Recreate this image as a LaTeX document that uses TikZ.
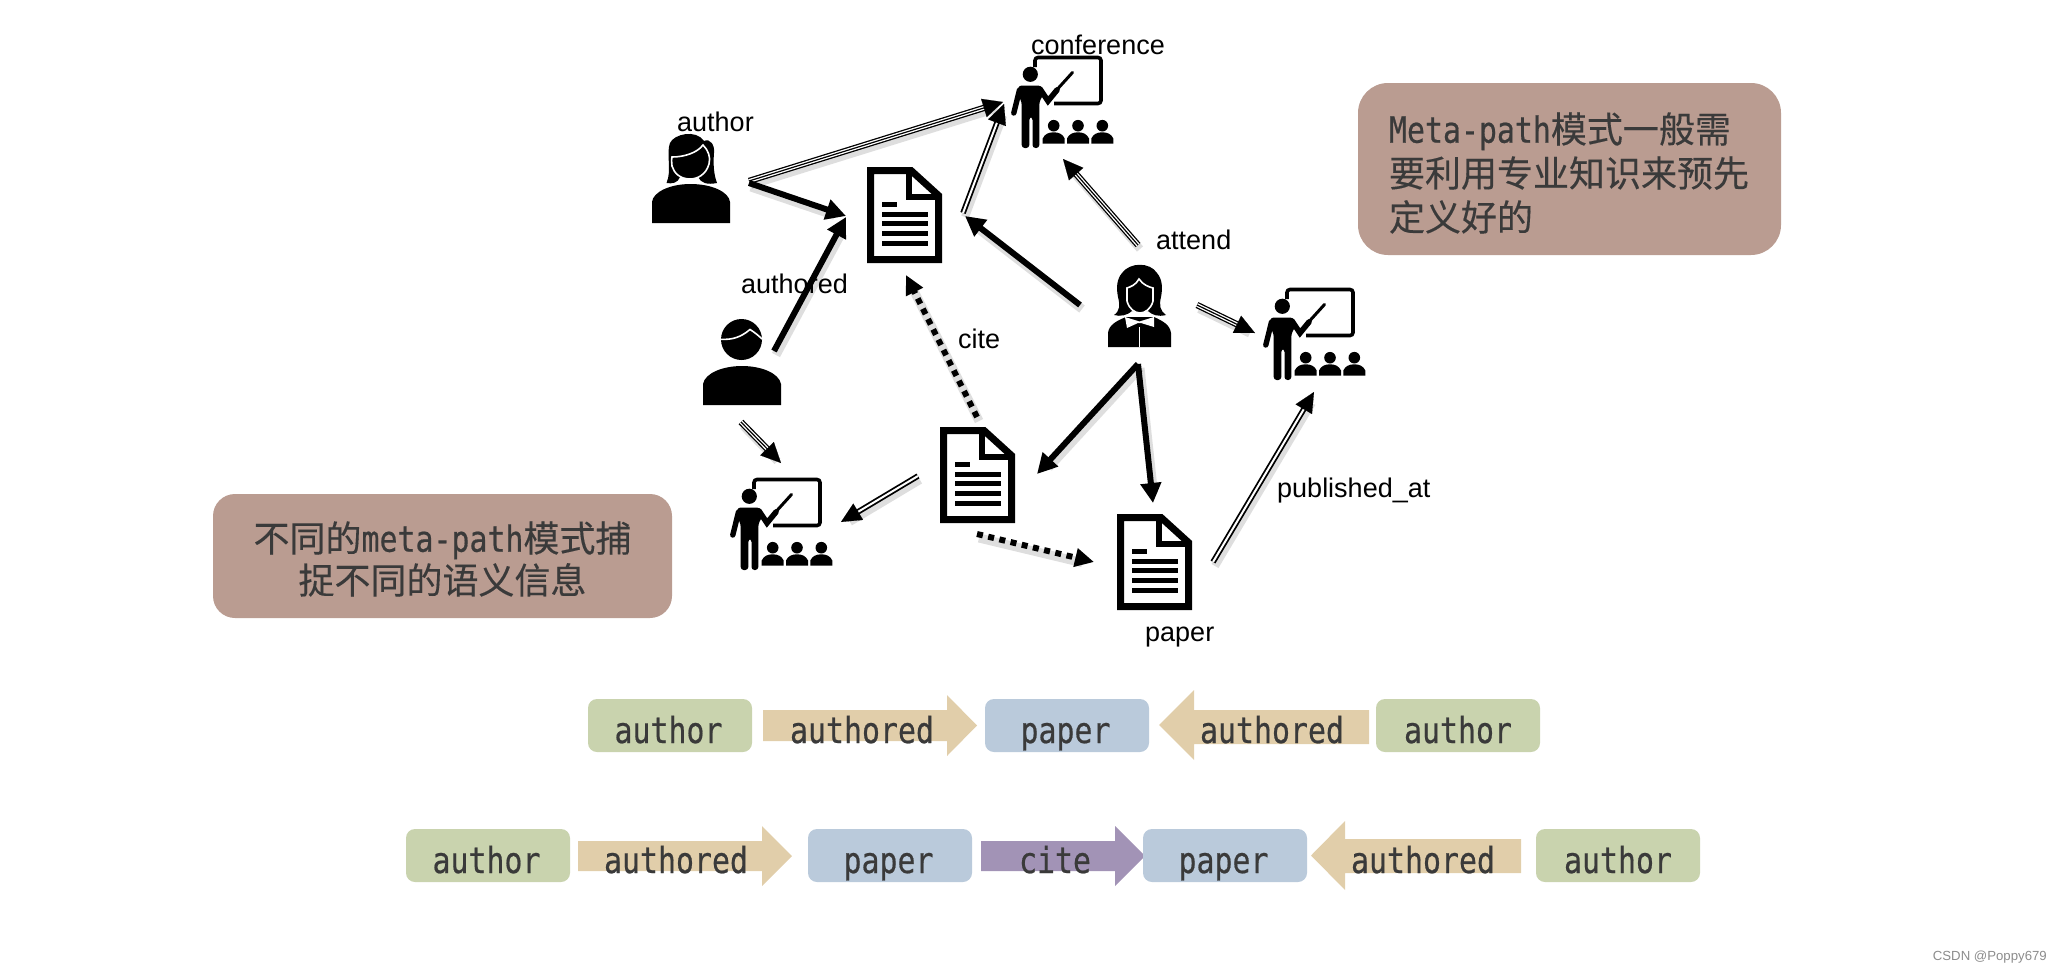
\documentclass[tikz,border=0pt]{standalone}
\usepackage{fontspec}
\setmainfont{Liberation Sans}
\newfontfamily\cjkfont[FakeBold=0.3]{Noto Sans CJK SC}
\newfontfamily\latinfont[FakeStretch=0.83,FakeBold=0.5]{DejaVu Sans Mono}
\usetikzlibrary{arrows.meta,calc}
\definecolor{brownbox}{HTML}{BA9C91}
\definecolor{greenbox}{HTML}{C9D3AE}
\definecolor{bluebox}{HTML}{BACADB}
\definecolor{tanbox}{HTML}{E1CEAA}
\definecolor{purplebox}{HTML}{A293B6}
\definecolor{inktext}{HTML}{3A3A3A}
\newcommand{\pxfont}[2]{\fontsize{#1}{#2}\selectfont}
\tikzset{
  x=1pt,y=-1pt,
  lbl/.style={anchor=base west,inner sep=0pt,font=\pxfont{27}{30}},
  notetext/.style={inner sep=0pt,text=inktext,font=\cjkfont\pxfont{36}{44}},
  pill/.style={rounded corners=9pt,fill=#1,minimum height=53pt,inner sep=0pt,text=inktext,
    text height=36pt,text depth=1pt,font=\latinfont\pxfont{36}{40}},
  flowtext/.style={inner sep=0pt,text=inktext,text height=36pt,text depth=1pt,font=\latinfont\pxfont{36}{40}},
  shadowline/.style={draw=black,opacity=.13,line cap=butt,transform canvas={shift={(2pt,-4pt)}}},
  thickline/.style={line width=6pt,-{Triangle[length=20pt,width=20pt]}},
  dotline/.style={line width=6pt,dash pattern=on 6pt off 5.5pt,-{Triangle[length=19pt,width=18pt]}},
  tiponly/.style={line width=.1pt,-{Triangle[length=20pt,width=19pt]}},
  paper/.pic={
    \draw[line width=7pt,miter limit=10] (3.5,3.5)--(44,3.5)--(71.5,28.5)--(71.5,92.5)--(3.5,92.5)--cycle;
    \draw[line width=6.5pt] (42,3.5)--(42,30)--(71.5,30);
    \draw[line width=5pt] (15,37)--(30,37) (15,47)--(61,47) (15,56.7)--(61,56.7) (15,66.5)--(61,66.5) (15,76.2)--(61,76.2);
  },
  teacher/.pic={
    \draw[line width=3.6pt,rounded corners=3pt] (24,12)--(24,2.5)--(90,2.5)--(90,48.5)--(43,48.5);
    \fill (19.3,19.3) circle (7.6);
    \fill[rounded corners=3pt] (7.5,30.5)--(30,30.5)--(33,38)--(28.3,47)--(28.3,93)--(21.5,93)--(21.5,62)--(18.3,62)--(18.3,93)--(10.7,93)--(10.7,47)--(7,40)--cycle;
    \draw[line width=5.4pt,line cap=round] (8.5,35)--(2.8,58);
    \draw[line width=5.6pt,line cap=round] (29,34)--(37,46)--(46,35);
    \draw[line width=3pt,line cap=round] (42,39)--(61.5,17.5);
    \foreach \cx in {42.7,67,91.3}{
      \fill (\cx,70.7) circle (5.8);
      \fill (\cx-11,88.5)--(\cx-11,83.5) .. controls (\cx-9,79) and (\cx-5,77.3) .. (\cx,77.3) .. controls (\cx+5,77.3) and (\cx+9,79) .. (\cx+11,83.5)--(\cx+11,88.5)--cycle;
    }
  },
  womanicon/.pic={
    \fill (14.5,50) .. controls (20,38) and (14,20) .. (18,10) .. controls (22,1) and (44,-4) .. (52,8) .. controls (58,5) and (63,12) .. (62,20) .. controls (61,32) and (62,42) .. (65,50) .. controls (55,52) and (49,50) .. (46,44)--(28,44) .. controls (26,50) and (20,51) .. cycle;
    \draw[white,line width=1.6pt,fill=black] (20,24) .. controls (32,24) and (45,20) .. (51,12) .. controls (56,17) and (59,24) .. (57,31) .. controls (54,42) and (45,46) .. (38,46) .. controls (28,46) and (22,40) .. (20,33) .. controls (19.5,30) and (19.5,26) .. cycle;
    \fill (0,90)--(0,69) .. controls (1,59) and (18,51) .. (38.5,51) .. controls (60,51) and (77,59) .. (78,69)--(78,90)--cycle;
  },
  manicon/.pic={
    \fill (38.5,20.5) circle (20.5);
    \draw[white,line width=1.6pt] (17,20.3) .. controls (30,21) and (38,18) .. (47,10.5) .. controls (51,13) and (55,16) .. (59,20);
    \fill (0,86)--(0,65) .. controls (2,54) and (20,47) .. (39,47) .. controls (58,47) and (76,54) .. (78,65)--(78,86)--cycle;
  },
  ladyicon/.pic={
    \fill (6,50) .. controls (12,46) and (12,40) .. (10,32) .. controls (8,22) and (9,14) .. (14,8) .. controls (22,-3) and (42,-3) .. (49,8) .. controls (54,14) and (55,22) .. (53,32) .. controls (51,40) and (52,46) .. (58,50) .. controls (50,52) and (44,50) .. (40,46)--(24,46) .. controls (20,50) and (12,52) .. cycle;
    \draw[white,line width=1.6pt,fill=black] (31,14) .. controls (28,20) and (22,22) .. (19,23)--(19,36) .. controls (21,44) and (27,48) .. (32,48) .. controls (37,48) and (43,44) .. (45,36)--(45,23) .. controls (41,22) and (35,20) .. cycle;
    \fill (0,82)--(0,68) .. controls (1,60) and (8,56) .. (18,52)--(46,52) .. controls (55,56) and (62,60) .. (63,68)--(63,82)--cycle;
    \fill[white] (17,52)--(31.5,56.5)--(46,52)--(46,62)--(33,58)--(30,58)--(19,63)--cycle;
    \draw[white,line width=1pt] (31.7,62)--(31.7,82);
  },
}
\newcommand{\solidarrow}[3][thickline]{%
  \draw[shadowline,line width=9pt,shorten >=14pt] (#2)--(#3);
  \draw[#1] (#2)--(#3);}
\newcommand{\doublearrow}[2]{%
  \draw[shadowline,line width=8pt,shorten >=8pt] (#1)--(#2);
  \draw[line width=5.6pt,shorten >=15pt] (#1)--(#2);
  \draw[white,line width=2pt,shorten >=15pt] (#1)--(#2);
  \draw[tiponly] ($(#2)!20pt!(#1)$)--(#2);}
\newcommand{\triplearrow}[2]{%
  \draw[shadowline,line width=8pt,shorten >=8pt] (#1)--(#2);
  \draw[line width=6.4pt,shorten >=15pt] (#1)--(#2);
  \draw[white,line width=3.8pt,shorten >=15pt] (#1)--(#2);
  \draw[line width=1.2pt,shorten >=15pt] (#1)--(#2);
  \draw[tiponly] ($(#2)!20pt!(#1)$)--(#2);}
\begin{document}
\begin{tikzpicture}
\useasboundingbox (0,0) rectangle (2062,972);

% note boxes
\fill[brownbox,rounded corners=30pt] (1358,83) rectangle (1781,255);
\node[notetext,text width=361pt,align=left] (noteright) at (1569.5,173)
  {{\latinfont Meta-path}模式一般需\\要利用专业知识来预先\\定义好的};
\fill[brownbox,rounded corners=22pt] (213,494) rectangle (672,618);
\node[notetext,align=center,font=\cjkfont\pxfont{36}{42}] (noteleft) at (442.5,559)
  {不同的{\latinfont meta-path}模式捕\\捉不同的语义信息};

% icons
\pic (womanA) at (652,133) {womanicon};
\pic (manA) at (703,319) {manicon};
\pic (ladyA) at (1108,265) {ladyicon};
\pic (paperA) at (867,167) {paper};
\pic (paperB) at (940,427) {paper};
\pic (paperC) at (1117,514) {paper};
\pic (confA) at (1011,55) {teacher};
\pic (confB) at (1263,287) {teacher};
\pic (confC) at (730,477) {teacher};

% connector ends
\coordinate (womanOut) at (749,181);
\coordinate (womanOutB) at (749,183);
\coordinate (confAin) at (1003,102);
\coordinate (confAinB) at (1004,104);
\coordinate (paperAinL) at (846,216);
\coordinate (paperAinLB) at (846,217);
\coordinate (manOut) at (774,351);
\coordinate (paperAout) at (963,213);
\coordinate (ladyWest) at (1080,305);
\coordinate (paperAinR) at (965,216);
\coordinate (ladyNorth) at (1138,245);
\coordinate (confAinS) at (1063,159);
\coordinate (ladyEast) at (1197,305);
\coordinate (confBinW) at (1255,333);
\coordinate (ladySouth) at (1138,364);
\coordinate (paperBinR) at (1037,474);
\coordinate (paperCin) at (1153,503);
\coordinate (paperCout) at (1213,562);
\coordinate (confBinS) at (1314,392);
\coordinate (paperBnorth) at (977,417);
\coordinate (paperAinS) at (906,275);
\coordinate (paperBsouth) at (977,534);
\coordinate (paperCinW) at (1094,562);
\coordinate (paperBwest) at (918,476);
\coordinate (confCinE) at (841,522);
\coordinate (manSouth) at (741,422);
\coordinate (confCinN) at (781,463);

% connectors
\triplearrow{womanOut}{confAin}
\doublearrow{paperAout}{confAinB}
\solidarrow{womanOutB}{paperAinL}
\solidarrow{manOut}{paperAinLB}
\solidarrow{ladyWest}{paperAinR}
\triplearrow{ladyNorth}{confAinS}
\triplearrow{ladyEast}{confBinW}
\solidarrow{ladySouth}{paperBinR}
\solidarrow{ladySouth}{paperCin}
\doublearrow{paperCout}{confBinS}
\solidarrow[dotline]{paperBnorth}{paperAinS}
\solidarrow[dotline]{paperBsouth}{paperCinW}
\doublearrow{paperBwest}{confCinE}
\triplearrow{manSouth}{confCinN}

% labels
\node[lbl] (lblauthor) at (677,131) {author};
\node[lbl] (lblconf) at (1031,54) {conference};
\node[lbl] (lblauthored) at (741,293) {authored};
\node[lbl] (lblcite) at (958,348) {cite};
\node[lbl] (lblattend) at (1156,249) {attend};
\node[lbl] (lblpub) at (1277,497) {published\_at};
\node[lbl] (lblpaper) at (1145,641) {paper};

% path schema, first row
\fill[tanbox] (763,710)--(947,710)--(947,695)--(977,725.5)--(947,756)--(947,741)--(763,741)--cycle;
\fill[tanbox] (1369,710)--(1194,710)--(1194,690)--(1159,725)--(1194,760)--(1194,744)--(1369,744)--cycle;
\node[pill=greenbox,minimum width=164pt] (r1a) at (670,725.5) {\hspace{-3pt}author};
\node[flowtext] (r1t) at (862,725.5) {authored};
\node[pill=bluebox,minimum width=164pt] (r1p) at (1067,725.5) {\hspace{-3pt}paper};
\node[flowtext] (r1u) at (1272,725.5) {authored};
\node[pill=greenbox,minimum width=164pt] (r1b) at (1458,725.5) {author};

% path schema, second row
\fill[tanbox] (578,841)--(762,841)--(762,826)--(792,856)--(762,886)--(762,871)--(578,871)--cycle;
\fill[purplebox] (981,841)--(1115,841)--(1115,826)--(1145,856)--(1115,886)--(1115,871)--(981,871)--cycle;
\fill[tanbox] (1521,839)--(1345,839)--(1345,821)--(1311,855.5)--(1345,890)--(1345,873)--(1521,873)--cycle;
\node[pill=greenbox,minimum width=164pt] (r2a) at (488,855.5) {\hspace{-3pt}author};
\node[flowtext] (r2t) at (676,855.5) {authored};
\node[pill=bluebox,minimum width=164pt] (r2p) at (890,855.5) {\hspace{-3pt}paper};
\node[flowtext] (r2c) at (1055,855.5) {cite};
\node[pill=bluebox,minimum width=164pt] (r2q) at (1225,855.5) {\hspace{-3pt}paper};
\node[flowtext] (r2u) at (1423,855.5) {authored};
\node[pill=greenbox,minimum width=164pt] (r2b) at (1618,855.5) {author};

\node[anchor=base east,inner sep=0pt,text=black!45,font=\pxfont{13.2}{15}] (mark) at (2047,960) {CSDN @Poppy679};
\end{tikzpicture}
\end{document}
